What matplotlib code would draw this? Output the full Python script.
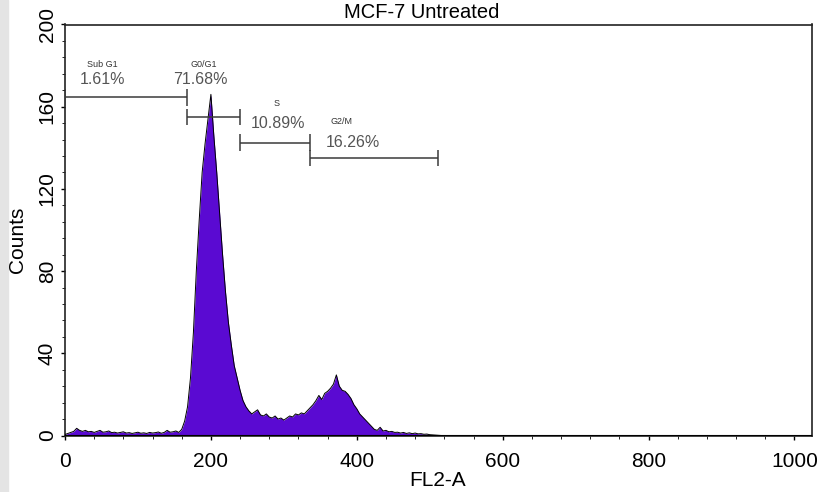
import numpy as np
import matplotlib
matplotlib.use('Agg')
import matplotlib.pyplot as plt
from matplotlib.ticker import MultipleLocator
from matplotlib.patches import Rectangle

plt.rcParams['font.family'] = ['Liberation Sans', 'DejaVu Sans']

# FL2-A histogram, 4-channel bins starting at channel 0
bin_width = 4
counts = [
    0.5, 1.0, 1.5, 2.0, 3.5, 2.5, 2.0, 2.5, 1.8, 2.0,      # 0-36
    1.5, 2.0, 2.5, 1.6, 1.8, 2.2, 1.4, 1.6, 1.2, 1.5,      # 40-76
    1.8, 1.2, 1.4, 1.0, 1.3, 1.6, 1.1, 1.3, 1.0, 1.5,      # 80-116
    1.2, 1.4, 1.7, 1.1, 1.5, 2.5, 1.6, 1.8, 2.2, 1.5,      # 120-156
    3.0, 7.0, 14.0, 28.0, 50.0, 80.0, 105.0, 128.0, 142.0, 154.0,  # 160-196
    166.0, 146.0, 128.0, 108.0, 88.0, 70.0, 55.0, 44.0, 34.0, 28.0,  # 200-236
    22.0, 17.0, 14.0, 12.0, 10.5, 11.5, 12.5, 10.0, 9.5, 10.5,     # 240-276
    9.0, 8.5, 9.5, 8.0, 8.5, 7.5, 8.5, 9.5, 9.0, 10.5,     # 280-316
    10.0, 11.0, 10.5, 12.0, 13.5, 15.0, 17.0, 19.5, 17.5, 20.5,    # 320-356
    21.5, 23.0, 25.0, 29.5, 24.0, 22.0, 21.5, 20.0, 18.0, 15.0,    # 360-396
    13.0, 10.5, 9.0, 7.5, 6.0, 4.5, 3.0, 2.5, 4.0, 2.2,    # 400-436
    2.5, 1.8, 2.0, 1.5, 1.6, 1.2, 1.5, 1.0, 1.3, 0.9,      # 440-476
    1.2, 0.8, 0.9, 0.6, 0.7, 0.4, 0.3, 0.2, 0.1, 0.0,      # 480-516
]

# gates: name, start channel, end channel, marker height, percent of events
gate_names = ['Sub G1', 'G0/G1', 'S', 'G2/M']
gate_start = [0, 167, 240, 336]
gate_end = [167, 240, 336, 511]
gate_level = [164.5, 155, 142.5, 135]
gate_pct = ['1.61%', '71.68%', '10.89%', '16.26%']
# where the gate labels sit (channel, count) for the name and the percentage
name_pos = [(51, 180.5), (190, 180.5), (290, 161.5), (379, 153)]
pct_pos = [(51, 173), (185, 173), (292, 152), (394, 142.5)]

channels = np.arange(len(counts)) * bin_width
counts = np.array(counts)

fig = plt.figure(figsize=(8.23, 4.92), dpi=100)
fig.patches.append(Rectangle((0, 0), 8 / 823, 1, transform=fig.transFigure,
                             color='#e4e4e4', zorder=0))
ax = fig.add_axes([65 / 823, 1 - 435.5 / 492, (812 - 65) / 823, (435.5 - 24.5) / 492])

ax.fill_between(channels, counts, 0, color='#5a0ad2', lw=0, zorder=2)
ax.plot(channels, counts, color='black', lw=0.7, zorder=3)
ax.axhline(0, color='black', lw=1.5, zorder=4)

gate_color = '#3a3a3a'
cap = 4
for i in range(len(gate_names)):
    y = gate_level[i]
    ax.hlines(y, gate_start[i], gate_end[i], color=gate_color, lw=1.1, zorder=5)
    ax.vlines([gate_start[i], gate_end[i]], y - cap, y + cap, color=gate_color,
              lw=1.1, zorder=5)
    ax.text(name_pos[i][0], name_pos[i][1], gate_names[i], fontsize=6.5,
            color='#333333', ha='center', va='center')
    ax.text(pct_pos[i][0], pct_pos[i][1], gate_pct[i], fontsize=11.5,
            color='#555555', ha='center', va='center')

ax.set_xlim(0, 1024)
ax.set_ylim(0, 200)
ax.xaxis.set_major_locator(MultipleLocator(200))
ax.xaxis.set_minor_locator(MultipleLocator(40))
ax.yaxis.set_major_locator(MultipleLocator(40))
ax.yaxis.set_minor_locator(MultipleLocator(8))
ax.tick_params(which='major', direction='out', length=3, width=1, labelsize=15)
ax.tick_params(which='minor', direction='out', length=2, width=0.6)
ax.tick_params(axis='x', pad=9)
ax.tick_params(axis='y', pad=3)
for lab in ax.get_yticklabels():
    lab.set_rotation(90)
    lab.set_va('center')

for s in ax.spines.values():
    s.set_linewidth(1.2)
    s.set_color('#222222')

# axis titles placed on the figure so they keep inside the canvas
fig.text(438 / 823, 1 - 481 / 492, 'FL2-A', fontsize=15, ha='center', va='center')
fig.text(17.5 / 823, 1 - 240 / 492, 'Counts', fontsize=15, rotation=90,
         ha='center', va='center')
fig.text(422 / 823, 1 - 18 / 492, 'MCF-7 Untreated', fontsize=14.5,
         ha='center', va='baseline')

fig.savefig('out.png', dpi=100)
